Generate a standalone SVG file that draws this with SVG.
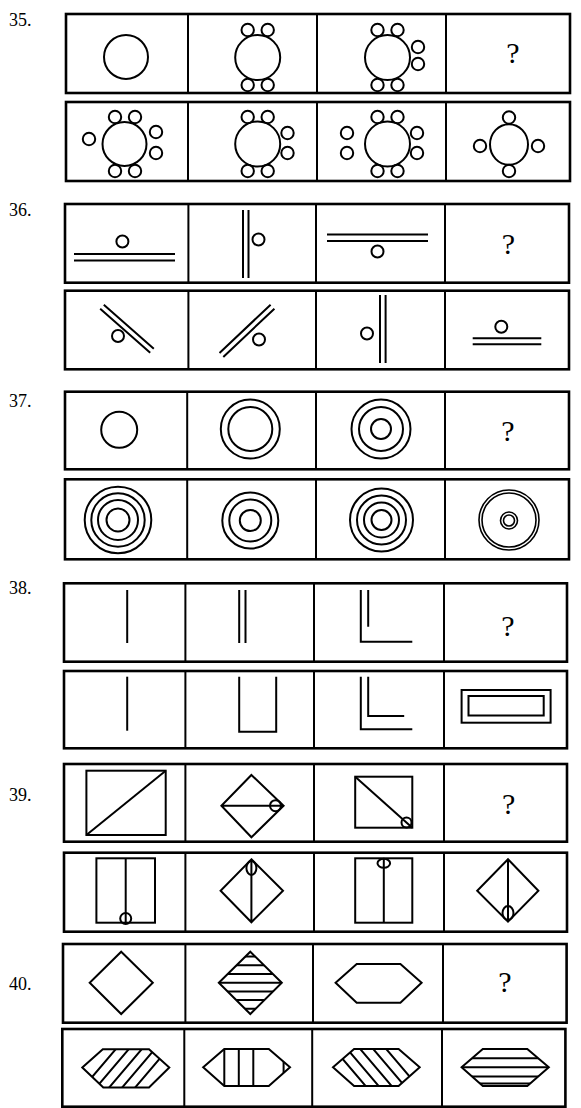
<svg xmlns="http://www.w3.org/2000/svg" width="581" height="1108" viewBox="0 0 581 1108">
<style>
.bx{fill:none;stroke:#000;stroke-width:2.6}
.dv{fill:none;stroke:#000;stroke-width:2}
.s{fill:none;stroke:#000;stroke-width:2}
.th{fill:none;stroke:#000;stroke-width:1.6}
.n{font-family:"Liberation Serif",serif;font-size:18px;fill:#000}
.q{font-family:"Liberation Serif",serif;font-size:30px;fill:#000;text-anchor:middle}
</style>
<defs>
<clipPath id="cD"><path d="M250.3 951.7L281.8 982.7L250.3 1014L218.8 982.7Z"/></clipPath>
<clipPath id="cH1"><path d="M82.3 1067.5L102.8 1049.3H149L169.3 1067.5L149 1087.5H103.3Z"/></clipPath>
<clipPath id="cH2"><path d="M203.2 1067.3L224.3 1049H268.8L290 1067.3L268.8 1086H224.3Z"/></clipPath>
<clipPath id="cH3"><path d="M333 1067.3L354.1 1049H398.6L419.7 1067.3L398.6 1086H354.1Z"/></clipPath>
<clipPath id="cH4"><path d="M461.6 1067.3L482.8 1049H527.3L548.8 1067.3L527.3 1086H482.8Z"/></clipPath>
</defs>
<rect width="581" height="1108" fill="#fff"/>

<g id="p35">
<text class="n" x="9" y="26">35.</text>
<rect class="bx" x="66" y="14" width="504" height="79"/>
<path class="dv" d="M188 14V93M317 14V93M446 14V93"/>
<rect class="bx" x="66" y="102" width="504" height="79"/>
<path class="dv" d="M188 102V181M317 102V181M446 102V181"/>
<g class="s">
<circle cx="126" cy="57" r="22"/>
<circle cx="257.7" cy="57.5" r="22.5"/>
<circle cx="247.7" cy="30" r="6.2"/><circle cx="267.7" cy="30" r="6.2"/>
<circle cx="247.7" cy="85" r="6.2"/><circle cx="267.7" cy="85" r="6.2"/>
<circle cx="387.5" cy="57.5" r="22.5"/>
<circle cx="377.5" cy="30" r="6.2"/><circle cx="397.5" cy="30" r="6.2"/>
<circle cx="377.5" cy="85" r="6.2"/><circle cx="397.5" cy="85" r="6.2"/>
<circle cx="418" cy="47" r="6.2"/><circle cx="418" cy="64" r="6.2"/>
<circle cx="124.5" cy="144" r="22"/>
<circle cx="115" cy="117" r="6.2"/><circle cx="135" cy="117" r="6.2"/>
<circle cx="115" cy="171" r="6.2"/><circle cx="135" cy="171" r="6.2"/>
<circle cx="89" cy="139" r="6.2"/>
<circle cx="156" cy="132" r="6.2"/><circle cx="156" cy="153" r="6.2"/>
<circle cx="257.7" cy="144" r="22.5"/>
<circle cx="247.7" cy="117" r="6.2"/><circle cx="267.7" cy="117" r="6.2"/>
<circle cx="247.7" cy="171" r="6.2"/><circle cx="267.7" cy="171" r="6.2"/>
<circle cx="287.5" cy="133" r="6.2"/><circle cx="287.5" cy="153" r="6.2"/>
<circle cx="387.5" cy="144" r="22.5"/>
<circle cx="377.5" cy="117" r="6.2"/><circle cx="397.5" cy="117" r="6.2"/>
<circle cx="377.5" cy="171" r="6.2"/><circle cx="397.5" cy="171" r="6.2"/>
<circle cx="347" cy="133" r="6.2"/><circle cx="347" cy="153" r="6.2"/>
<circle cx="417" cy="133" r="6.2"/><circle cx="417" cy="153" r="6.2"/>
<ellipse cx="509" cy="144.5" rx="19" ry="20.3"/>
<circle cx="509" cy="117.5" r="6.2"/><circle cx="509" cy="171" r="6.2"/>
<circle cx="480" cy="146" r="6.2"/><circle cx="538" cy="146" r="6.2"/>
</g>
<text class="q" x="513" y="63">?</text>
</g>

<g id="p36">
<text class="n" x="9" y="216">36.</text>
<rect class="bx" x="65" y="204" width="504" height="78.7"/>
<path class="dv" d="M188.4 204V282.7M316 204V282.7M445 204V282.7"/>
<rect class="bx" x="65" y="290.7" width="504" height="78.6"/>
<path class="dv" d="M188.4 290.7V369.3M316 290.7V369.3M445 290.7V369.3"/>
<g class="s">
<path d="M74 254H175M74 260.5H175"/>
<circle cx="122.4" cy="241.5" r="6"/>
<path d="M243 210V278M248.5 210V278"/>
<circle cx="258.5" cy="239.5" r="6"/>
<path d="M327 234.5H428M327 241H428"/>
<circle cx="377.5" cy="251.5" r="6"/>
<path d="M103.8 304.7L153.8 348.7M100.2 308.7L150.2 352.7"/>
<circle cx="118" cy="336" r="6"/>
<path d="M223.3 357L274.4 308.7M219.5 353L270.6 304.7"/>
<circle cx="259" cy="339.5" r="6"/>
<path d="M380 295V363M385.6 295V363"/>
<circle cx="367" cy="333.5" r="6"/>
<path d="M472.7 338.3H541.3M472.7 344.3H541.3"/>
<circle cx="501.3" cy="326.7" r="6"/>
</g>
<text class="q" x="508.5" y="254">?</text>
</g>

<g id="p37">
<text class="n" x="9" y="407">37.</text>
<rect class="bx" x="65" y="391.7" width="504" height="77.6"/>
<path class="dv" d="M187.2 391.7V469.3M316 391.7V469.3M445 391.7V469.3"/>
<rect class="bx" x="65" y="479.3" width="504" height="80"/>
<path class="dv" d="M187.2 479.3V559.3M316 479.3V559.3M445 479.3V559.3"/>
<g class="s">
<circle cx="119.2" cy="429.7" r="18"/>
<circle cx="250.3" cy="429" r="29.5"/><circle cx="250.3" cy="429" r="22"/>
<circle cx="381" cy="429" r="29.5"/><circle cx="381" cy="429" r="22"/><circle cx="381" cy="429" r="10"/>
<circle cx="118" cy="520" r="33.3"/><circle cx="118" cy="520" r="26.7"/><circle cx="118" cy="520" r="20"/><circle cx="118" cy="520" r="11.5"/>
<circle cx="250.3" cy="520.5" r="28"/><circle cx="250.3" cy="520.5" r="21"/><circle cx="250.3" cy="520.5" r="10.5"/>
<circle cx="381.5" cy="520" r="31.5"/><circle cx="381.5" cy="520" r="24.5"/><circle cx="381.5" cy="520" r="17.5"/><circle cx="381.5" cy="520" r="10"/>
</g>
<g class="th">
<circle cx="509" cy="520" r="30"/><circle cx="509" cy="520" r="27"/>
<circle cx="509" cy="520.5" r="8.5"/><circle cx="509" cy="520.5" r="5.5"/>
</g>
<text class="q" x="508" y="441">?</text>
</g>

<g id="p38">
<text class="n" x="9" y="594">38.</text>
<rect class="bx" x="64" y="583.3" width="503" height="78.4"/>
<path class="dv" d="M185.4 583.3V661.7M314 583.3V661.7M444 583.3V661.7"/>
<rect class="bx" x="64" y="671" width="503" height="77.3"/>
<path class="dv" d="M185.4 671V748.3M314 671V748.3M444 671V748.3"/>
<g class="s">
<path d="M127.2 590V643"/>
<path d="M239.2 590V643M245.5 590V643"/>
<path d="M360.8 590V641.7H412.3M368.2 590V626.7"/>
<path d="M127.2 676.7V730.7"/>
<path d="M239.2 676.7V731.7H276.2V676.7"/>
<path d="M360.8 676.7V729.3H412.3M368.2 676.7V716H404.2"/>
<rect x="461.6" y="690" width="89" height="32.7"/>
<rect x="468.5" y="696" width="75.2" height="19.5"/>
</g>
<text class="q" x="508" y="636">?</text>
</g>

<g id="p39">
<text class="n" x="9" y="801">39.</text>
<rect class="bx" x="64" y="764" width="503" height="77.7"/>
<path class="dv" d="M185.4 764V841.7M314 764V841.7M444 764V841.7"/>
<rect class="bx" x="64" y="852.7" width="503" height="79"/>
<path class="dv" d="M185.4 852.7V931.7M314 852.7V931.7M444 852.7V931.7"/>
<g class="s">
<rect x="86.4" y="770.7" width="79.3" height="64.3"/>
<path d="M86.4 835L165.7 770.7"/>
<path d="M251.4 775L283.6 805.7L251.4 837.3L221.4 805.7ZM221.4 805.7H283.6"/>
<circle cx="275.5" cy="805.7" r="5.5"/>
<rect x="355.2" y="776.7" width="57.1" height="51"/>
<path d="M355.2 776.7L412.3 827.7"/>
<circle cx="406.5" cy="822.5" r="5"/>
<rect x="96.4" y="858.3" width="58.6" height="64.4"/>
<path d="M125.7 858.3V922.7"/>
<ellipse cx="125.7" cy="918.5" rx="5.5" ry="5.5"/>
<path d="M251.4 859.3L283 890.7L251.4 922.3L220.6 890.7ZM251.4 859.3V922.3"/>
<ellipse cx="251.4" cy="868" rx="5" ry="7"/>
<rect x="355.2" y="858.3" width="57.1" height="64.4"/>
<path d="M383.8 858.3V922.7"/>
<ellipse cx="383.8" cy="863.3" rx="6.3" ry="4.5"/>
<path d="M508 859.3L538.4 890.7L508 921.7L477.2 890.7ZM508 859.3V921.7"/>
<ellipse cx="508" cy="913" rx="5.5" ry="7"/>
</g>
<text class="q" x="508.7" y="814">?</text>
</g>

<g id="p40">
<text class="n" x="9" y="990">40.</text>
<rect class="bx" x="63" y="944" width="503.6" height="78.7"/>
<path class="dv" d="M185.4 944V1022.7M313 944V1022.7M443 944V1022.7"/>
<rect class="bx" x="62.3" y="1029" width="503.1" height="77.7"/>
<path class="dv" d="M184.3 1029V1106.7M312.2 1029V1106.7M442 1029V1106.7"/>
<g class="s">
<path d="M121.2 951.7L152.8 982.7L121.2 1014L89.7 982.7Z"/>
<path d="M250.3 951.7L281.8 982.7L250.3 1014L218.8 982.7Z"/>
<path clip-path="url(#cD)" d="M210 956.6H290M210 965.3H290M210 974H290M210 982.7H290M210 991.4H290M210 1000.1H290M210 1008.8H290"/>
<path d="M335.6 982.7L356.7 964H400.4L421.6 982.7L400.4 1002.7H356.7Z"/>
<path d="M82.3 1067.5L102.8 1049.3H149L169.3 1067.5L149 1087.5H103.3Z"/>
<path clip-path="url(#cH1)" d="M78.5 1093L121 1043M91.5 1093L134 1043M104.5 1093L147 1043M117.5 1093L160 1043M130.5 1093L173 1043"/>
<path d="M203.2 1067.3L224.3 1049H268.8L290 1067.3L268.8 1086H224.3Z"/>
<path clip-path="url(#cH2)" d="M224.3 1040V1095M238.8 1040V1095M253.3 1040V1095M283.6 1040V1095"/>
<path d="M333 1067.3L354.1 1049H398.6L419.7 1067.3L398.6 1086H354.1Z"/>
<path clip-path="url(#cH3)" d="M329.1 1043L371.6 1093M342.1 1043L384.6 1093M355.1 1043L397.6 1093M368.1 1043L410.6 1093M381.1 1043L423.6 1093"/>
<path d="M461.6 1067.3L482.8 1049H527.3L548.8 1067.3L527.3 1086H482.8Z"/>
<path clip-path="url(#cH4)" d="M455 1058.3H555M455 1067.3H555M455 1076.5H555M455 1083.5H555"/>
</g>
<text class="q" x="505" y="992">?</text>
</g>
</svg>
